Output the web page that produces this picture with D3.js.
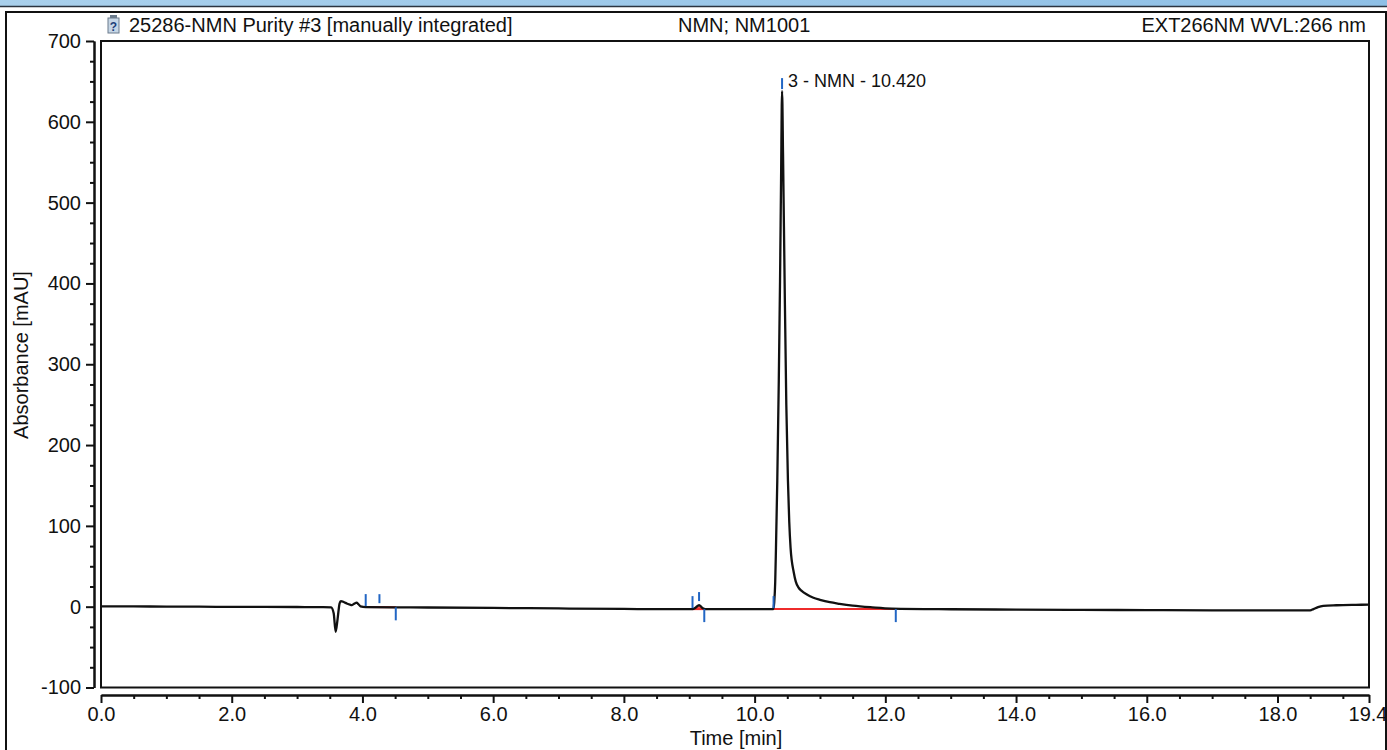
<!DOCTYPE html>
<html>
<head>
<meta charset="utf-8">
<script src="https://cdn.jsdelivr.net/npm/d3@7"></script>
<style>
  body { margin: 0; background: #fff; }
  svg { display: block; font-family: "Liberation Sans", Arial, sans-serif; }
</style>
</head>
<body>
<svg id="chart" width="1387" height="750"></svg>
<script>
// chromatogram trace (min / mAU)
var time = [0.0, 0.5, 1.0, 1.5, 2.0, 2.5, 3.0, 3.4, 3.52, 3.56, 3.59, 3.62, 3.65, 3.67, 3.72, 3.76, 3.81, 3.84, 3.88, 3.91, 3.94, 3.97, 4.05,
  4.5, 5.0, 6.0, 7.0, 8.0, 8.5, 9.0, 9.05, 9.1, 9.15, 9.2, 9.25, 9.5, 10.0, 10.25, 10.286, 10.30, 10.315, 10.327, 10.347, 10.37, 10.389,
  10.405, 10.42, 10.435, 10.459, 10.485, 10.51, 10.53, 10.55, 10.6, 10.63, 10.67, 10.72, 10.8, 10.9, 11.0, 11.15, 11.3, 11.5, 11.8, 12.1,
  13.0, 14.0, 15.0, 16.0, 17.0, 18.0, 18.5, 18.55, 18.62, 18.7, 18.9, 19.2, 19.4];
var absorbance = [0.5, 0.3, 0.2, 0.0, -0.2, -0.3, -0.4, -0.5, -0.8, -8, -31, -15, 4, 7, 5.5, 4, 2.5, 2, 4, 5, 3, 0.5, -0.5,
  -0.8, -1.0, -1.5, -2.2, -2.8, -3, -3, -3, -1, 2, -1.5, -3, -3, -3, -3, -3, 5, 30, 73, 156, 280, 403,
  530, 638, 560, 403, 250, 156, 105, 73, 42, 31, 24, 19.5, 15, 11, 8.5, 5.5, 3.5, 1.3, -0.8, -2.3,
  -3.2, -3.6, -4, -4.2, -4.5, -4.6, -4.5, -3, -0.5, 1, 1.8, 2.3, 2.5];

// integration marks
var peakStart = [4.05, 9.05, 10.29];
var peakStartValue = [-0.5, -3, -3];
var peakMax = [4.26, 9.15, 10.42];
var peakMaxValue = [-0.6, 2, 638];
var peakEnd = [4.51, 9.23, 12.16];
var peakEndValue = [-0.8, -3, -3];
var peakLabel = ["", "", "3 - NMN - 10.420"];

var xMajorTicks = [0, 2, 4, 6, 8, 10, 12, 14, 16, 18, 19.4];
var xTickLabels = ["0.0", "2.0", "4.0", "6.0", "8.0", "10.0", "12.0", "14.0", "16.0", "18.0", "19.4"];
var yMajorTicks = [-100, 0, 100, 200, 300, 400, 500, 600, 700];
var yTickLabels = ["-100", "0", "100", "200", "300", "400", "500", "600", "700"];

var svg = d3.select("#chart");

var plotLeft = 101, plotRight = 1369, plotTop = 41, plotBottom = 687.5;

var x = d3.scaleLinear().domain([0, 19.4]).range([plotLeft, plotRight]);
var y = d3.scaleLinear().domain([-100, 700]).range([plotBottom, plotTop]);

// header strip of the window (its caption is scrolled out of view)
var grad = svg.append("defs").append("linearGradient").attr("id", "barGrad")
  .attr("x1", 0).attr("x2", 1).attr("y1", 0).attr("y2", 0);
grad.append("stop").attr("offset", "0%").attr("stop-color", "#a9d0ec");
grad.append("stop").attr("offset", "100%").attr("stop-color", "#8fc0e6");
svg.append("rect").attr("x", 0).attr("y", 0).attr("width", 1387).attr("height", 6).attr("fill", "url(#barGrad)");
svg.append("line").attr("x1", 0).attr("x2", 1387).attr("y1", 6.5).attr("y2", 6.5)
  .attr("stroke", "#2b3440").attr("stroke-width", 1.5);

// outer frame
svg.append("path")
  .attr("d", "M6,752 L6,12 L1386,12 L1386,752")
  .attr("fill", "none").attr("stroke", "#111").attr("stroke-width", 2);

// title row
var icon = svg.append("g").attr("transform", "translate(108,15)");
icon.append("rect").attr("x", 0).attr("y", 3).attr("width", 11).attr("height", 15)
  .attr("fill", "#c6d6e6").attr("stroke", "#6b7b8c").attr("stroke-width", 1);
icon.append("rect").attr("x", 2).attr("y", 0).attr("width", 7).attr("height", 3).attr("fill", "#6b7b8c");
icon.append("text").attr("x", 5.5).attr("y", 15.5).attr("text-anchor", "middle")
  .attr("font-size", 12).attr("font-weight", "bold").attr("fill", "#1d3f7a").text("?");

svg.append("text").attr("x", 129).attr("y", 32).attr("font-size", 20).attr("fill", "#111")
  .text("25286-NMN Purity #3 [manually integrated]");
svg.append("text").attr("x", 678).attr("y", 32).attr("font-size", 20).attr("fill", "#111")
  .text("NMN; NM1001");
svg.append("text").attr("x", 1366).attr("y", 32).attr("font-size", 20).attr("fill", "#111")
  .attr("text-anchor", "end").text("EXT266NM WVL:266 nm");

// plot frame
svg.append("rect").attr("x", plotLeft).attr("y", plotTop)
  .attr("width", plotRight - plotLeft).attr("height", plotBottom - plotTop)
  .attr("fill", "none").attr("stroke", "#111").attr("stroke-width", 2);

// y axis, detached from the frame
var yMinor = d3.range(-100, 701, 25).filter(function (d) { return d % 100 !== 0; });
var yAxisG = svg.append("g").attr("transform", "translate(94,0)");
yAxisG.append("g")
  .call(d3.axisLeft(y).tickValues(yMinor).tickSize(4).tickSizeOuter(0).tickFormat(""));
yAxisG.append("g")
  .call(d3.axisLeft(y).tickValues(yMajorTicks).tickSize(8).tickSizeOuter(0).tickPadding(5)
    .tickFormat(function (d, i) { return yTickLabels[i]; }));
yAxisG.selectAll("path, line").attr("stroke", "#111").attr("stroke-width", 2);
yAxisG.selectAll("text").attr("font-size", 20).attr("fill", "#111").attr("font-family", null);

// x axis, detached from the frame
var xMinor = d3.range(0.5, 19.4, 0.5).filter(function (d) { return d % 2 !== 0; });
var xAxisG = svg.append("g").attr("transform", "translate(0,695)");
xAxisG.append("g")
  .call(d3.axisBottom(x).tickValues(xMinor).tickSize(4).tickSizeOuter(0).tickFormat(""));
xAxisG.append("g")
  .call(d3.axisBottom(x).tickValues(xMajorTicks).tickSize(8).tickSizeOuter(0).tickPadding(4)
    .tickFormat(function (d, i) { return xTickLabels[i]; }));
xAxisG.selectAll("path, line").attr("stroke", "#111").attr("stroke-width", 2);
xAxisG.selectAll("text").attr("font-size", 20).attr("fill", "#111").attr("font-family", null);
// the last label runs into the window edge in the scan; keep it readable
xAxisG.selectAll("text").filter(function (d) { return d === 19.4; })
  .attr("text-anchor", "end").attr("dx", "0.9em");

// axis titles
svg.append("text").attr("transform", "translate(28,355) rotate(-90)")
  .attr("text-anchor", "middle").attr("font-size", 20).attr("fill", "#111")
  .text("Absorbance [mAU]");
svg.append("text").attr("x", 736).attr("y", 745)
  .attr("text-anchor", "middle").attr("font-size", 20).attr("fill", "#111")
  .text("Time [min]");

var points = time.map(function (t, i) { return [t, absorbance[i]]; });

// small red area for the tiny peak near 9.1 min
var small = points.filter(function (p) { return p[0] >= peakStart[1] && p[0] <= peakEnd[1]; });
svg.append("path")
  .datum(small)
  .attr("fill", "#ee2b2b").attr("opacity", 0.85)
  .attr("d", d3.area()
    .x(function (d) { return x(d[0]); })
    .y0(y(peakStartValue[1]))
    .y1(function (d) { return y(d[1]); })
    .curve(d3.curveMonotoneX));

// integration baselines
svg.selectAll(".baseline")
  .data(peakStart)
  .enter()
  .append("line")
  .attr("class", "baseline")
  .attr("x1", function (d) { return x(d); })
  .attr("x2", function (d, i) { return x(peakEnd[i]); })
  .attr("y1", function (d, i) { return y(peakStartValue[i]); })
  .attr("y2", function (d, i) { return y(peakEndValue[i]); })
  .attr("stroke", "#ee2b2b").attr("stroke-width", 2);

// trace
var line = d3.line()
  .x(function (d) { return x(d[0]); })
  .y(function (d) { return y(d[1]); })
  .curve(d3.curveMonotoneX);

svg.append("path")
  .datum(points)
  .attr("fill", "none")
  .attr("stroke", "#111")
  .attr("stroke-width", 2.3)
  .attr("stroke-linejoin", "round")
  .attr("d", line);

// blue delimiter ticks
var blue = "#2266c4";
svg.selectAll(".startTick")
  .data(peakStart)
  .enter()
  .append("line")
  .attr("x1", function (d) { return x(d); })
  .attr("x2", function (d) { return x(d); })
  .attr("y1", function (d, i) { return y(peakStartValue[i]) - 1; })
  .attr("y2", function (d, i) { return y(peakStartValue[i]) - 13; })
  .attr("stroke", blue).attr("stroke-width", 2);

svg.selectAll(".maxTick")
  .data(peakMax)
  .enter()
  .append("line")
  .attr("x1", function (d) { return x(d); })
  .attr("x2", function (d) { return x(d); })
  .attr("y1", function (d, i) { return y(peakMaxValue[i]) - (i === 2 ? 2 : 4); })
  .attr("y2", function (d, i) { return y(peakMaxValue[i]) - 13; })
  .attr("stroke", blue).attr("stroke-width", 2);

svg.selectAll(".endTick")
  .data(peakEnd)
  .enter()
  .append("line")
  .attr("x1", function (d) { return x(d); })
  .attr("x2", function (d) { return x(d); })
  .attr("y1", function (d, i) { return y(peakEndValue[i]); })
  .attr("y2", function (d, i) { return y(peakEndValue[i]) + 13; })
  .attr("stroke", blue).attr("stroke-width", 2);

// peak label
svg.selectAll(".peakLabel")
  .data(peakMax)
  .enter()
  .append("text")
  .attr("x", function (d) { return x(d) + 6; })
  .attr("y", function (d, i) { return y(peakMaxValue[i]) - 4; })
  .attr("font-size", 18).attr("fill", "#111")
  .text(function (d, i) { return peakLabel[i]; });
</script>
</body>
</html>
